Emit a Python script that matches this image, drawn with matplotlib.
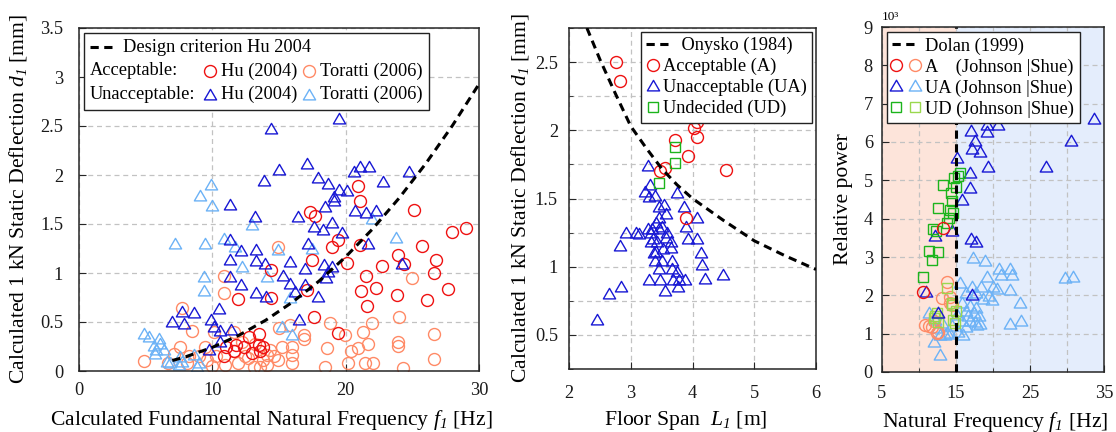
import matplotlib
matplotlib.use("Agg")
import matplotlib.pyplot as plt
from matplotlib.lines import Line2D
from matplotlib.path import Path
from matplotlib.markers import MarkerStyle
from matplotlib.offsetbox import TextArea, DrawingArea, HPacker, VPacker, AnchoredOffsetbox
from matplotlib.legend_handler import HandlerTuple, HandlerLine2D
from matplotlib.ticker import FixedLocator, FuncFormatter, MultipleLocator

# ---------------- data: panel 1 (frequency vs. 1 kN deflection) ----------------
hu_ok_f = [20.9, 21.1, 25.1, 17.3, 17.7, 28.0, 29.0, 19.0, 19.45, 21.1, 25.7,
           17.45, 20.1, 22.7, 23.9, 24.4, 26.75, 26.65, 14.4, 21.5, 27.7, 22.25,
           17.1, 21.15, 23.85, 26.1, 14.4, 11.9, 21.6, 17.6, 19.45,
           13.5, 12.75, 11.75, 12.4, 13.5, 13.8, 11.0, 11.6, 13.6, 10.9, 13.0]
hu_ok_d = [1.89, 1.73, 1.64, 1.62, 1.58, 1.42, 1.46, 1.27, 1.34, 1.29, 1.28,
           1.13, 1.10, 1.07, 1.18, 1.09, 1.13, 1.00, 1.03, 0.97, 0.84, 0.85,
           0.83, 0.82, 0.78, 0.72, 0.74, 0.73, 0.66, 0.55, 0.39,
           0.38, 0.35, 0.27, 0.25, 0.27, 0.25, 0.25, 0.20, 0.20, 0.15, 0.18]

hu_bad_f = [14.4, 19.5, 17.1, 15.0, 13.9, 17.95, 18.7, 20.6, 21.1, 21.75, 22.8,
            24.75, 19.5, 20.1, 19.15, 19.15, 18.45, 11.3, 13.2, 16.4, 20.7, 21.5,
            22.3, 17.6, 18.3, 19.0, 19.7, 21.7, 11.3, 12.15, 13.25, 17.2, 11.3,
            13.25, 13.95, 15.8, 16.95, 18.4, 19.0, 18.7, 18.5, 24.25, 11.3, 12.15,
            15.3, 15.8, 16.2, 16.95, 13.25, 14.0, 17.95, 10.5, 7.0, 7.75, 7.9,
            8.65, 9.9, 10.1, 10.6, 11.4, 10.6, 9.75, 16.5]
hu_bad_d = [2.47, 2.57, 2.11, 2.05, 1.94, 1.97, 1.91, 2.03, 2.08, 2.08, 1.93,
            2.03, 1.85, 1.84, 1.78, 1.73, 1.67, 1.69, 1.57, 1.57, 1.63, 1.61,
            1.63, 1.47, 1.44, 1.51, 1.41, 1.30, 1.34, 1.22, 1.23, 1.30, 1.13,
            1.12, 1.09, 1.11, 1.04, 1.08, 1.06, 1.01, 0.95, 1.09, 0.96, 0.88,
            0.97, 0.89, 0.81, 0.88, 0.80, 0.76, 0.76, 0.63, 0.50, 0.60, 0.48,
            0.59, 0.52, 0.45, 0.41, 0.42, 0.30, 0.21, 0.52]

tor_ok_f = [4.9, 7.75, 8.5, 7.6, 7.1, 8.1, 6.7, 9.45, 9.6, 10.3, 10.95, 10.9,
            10.9, 10.1, 11.6, 12.7, 13.1, 13.8, 14.3, 14.95, 15.2, 15.95, 15.95,
            15.95, 15.0, 15.8, 16.85, 16.85, 18.8, 18.45, 19.95, 20.2, 20.4,
            20.95, 21.3, 21.7, 21.45, 22.0, 22.05, 24.0, 23.95, 23.95, 24.3,
            25.0, 26.6, 26.6, 14.9, 11.6, 11.95, 12.45, 13.6, 14.1, 14.6, 14.1,
            18.6, 8.25, 9.0, 10.0, 12.2, 13.2]
tor_ok_d = [0.10, 0.64, 0.41, 0.25, 0.17, 0.08, 0.08, 0.25, 0.11, 0.15, 0.06,
            0.97, 0.80, 0.40, 0.40, 0.13, 0.04, 0.11, 0.21, 0.11, 0.25, 0.25,
            0.08, 0.16, 0.44, 0.47, 0.37, 0.33, 0.49, 0.04, 0.37, 0.08, 0.20,
            0.23, 0.40, 0.28, 0.08, 0.49, 0.08, 0.55, 0.30, 0.26, 0.03, 0.95,
            0.38, 0.12, 1.27, 0.20, 0.08, 0.15, 0.04, 0.06, 0.15, 0.16, 0.23,
            0.15, 0.15, 0.05, 0.30, 0.28]

tor_bad_f = [9.07, 9.9, 9.95, 7.2, 9.45, 9.4, 9.4, 10.9, 11.7, 12.2, 12.95,
             14.1, 14.95, 17.5, 21.95, 23.8, 15.8, 15.2, 15.95,
             4.9, 5.25, 6.0, 6.1, 5.6, 5.75, 5.7, 6.4, 6.6, 6.8, 7.6, 7.75,
             8.6, 9.0, 8.85, 7.5]
tor_bad_d = [1.79, 1.90, 1.68, 1.30, 1.30, 0.96, 0.82, 1.35, 1.27, 1.06, 1.49,
             0.96, 1.23, 1.25, 1.55, 1.36, 0.75, 0.45, 0.37,
             0.38, 0.35, 0.33, 0.28, 0.26, 0.21, 0.17, 0.21, 0.09, 0.08, 0.14,
             0.09, 0.16, 0.08, 0.04, 0.06]

# Hu (2004) design criterion, f1 [Hz] vs. d1 [mm]
hu_crit_f = [7, 8, 10, 12, 14, 16, 18, 20, 22, 24, 26, 28, 30]
hu_crit_d = [0.107, 0.145, 0.241, 0.365, 0.518, 0.702, 0.917, 1.165, 1.447,
             1.763, 2.115, 2.503, 2.928]

# ---------------- data: panel 2 (floor span vs. 1 kN deflection) ----------------
onysko_span = [2.29, 2.5, 2.75, 3.0, 3.25, 3.5, 3.75, 4.0, 4.5, 5.0, 5.5, 6.0]
onysko_defl = [2.75, 2.52, 2.27, 2.03, 1.87, 1.72, 1.60, 1.50, 1.34, 1.19, 1.08, 0.98]

span_a = [2.76, 2.82, 4.08, 4.02, 4.08, 3.72, 3.93, 3.47, 3.55, 4.55, 3.90]
defl_a = [2.50, 2.36, 2.06, 2.02, 1.95, 1.93, 1.81, 1.70, 1.72, 1.71, 1.36]

span_ud = [3.71, 3.72, 3.46]
defl_ud = [1.88, 1.76, 1.615]

span_ua = [3.28, 3.31, 3.23, 3.30, 3.40, 3.45, 3.54, 3.57, 3.46, 3.75, 3.86,
           4.07, 3.90, 3.41, 3.51, 2.92, 3.08, 3.13, 3.32, 3.46, 3.59, 3.32,
           3.43, 3.57, 3.65, 3.92, 4.07, 2.83, 3.41, 3.53, 3.65, 4.13, 3.39,
           3.51, 3.66, 4.15, 3.45, 3.67, 3.75, 3.30, 3.47, 3.68, 3.78, 3.88,
           4.20, 4.49, 3.55, 3.77, 2.85, 2.64, 2.46, 3.35, 3.28, 3.38, 3.36]
defl_ua = [1.74, 1.60, 1.55, 1.51, 1.52, 1.44, 1.45, 1.39, 1.36, 1.54, 1.44,
           1.36, 1.29, 1.32, 1.29, 1.25, 1.25, 1.24, 1.25, 1.28, 1.25, 1.18,
           1.18, 1.21, 1.18, 1.20, 1.20, 1.15, 1.11, 1.13, 1.14, 1.10, 1.04,
           1.04, 1.04, 1.01, 0.98, 0.98, 0.96, 0.90, 0.90, 0.90, 0.90, 0.90,
           0.91, 0.94, 0.82, 0.85, 0.85, 0.80, 0.61, 1.28, 1.28, 1.10, 1.20]

# ---------------- data: panel 3 (natural frequency vs. relative power, x10^3) ----------------
dolan_f1 = 15.0

jo_a_f = [10.5, 13.25]
jo_a_p = [2.08, 3.76]
sh_a_f = [13.8, 13.1, 14.2, 14.2, 10.85, 11.7, 12.4, 12.0, 11.4, 12.5, 14.4]
sh_a_p = [2.34, 1.93, 1.95, 1.80, 1.23, 1.17, 1.03, 1.32, 1.20, 1.05, 1.75]

jo_ua_f = [33.6, 30.5, 27.2, 22.4, 20.7, 19.15, 19.15, 17.0, 17.5, 17.2, 18.2,
           19.3, 15.1, 16.9, 16.9, 15.8, 14.4, 12.2, 17.0, 17.7, 11.0, 17.1, 12.6]
jo_ua_p = [6.60, 6.03, 5.35, 6.75, 6.44, 6.44, 6.26, 6.29, 6.03, 5.81, 5.74,
           5.35, 5.59, 5.18, 4.81, 4.48, 3.67, 3.54, 3.47, 3.39, 2.08, 2.02, 1.53]
sh_ua_f = [17.3, 18.9, 20.8, 22.3, 22.6, 21.1, 19.2, 29.7, 30.85, 15.5, 17.1,
           18.4, 20.0, 20.5, 22.3, 16.3, 17.75, 19.4, 18.6, 19.9, 23.65, 15.8,
           16.85, 17.75, 16.3, 17.4, 18.1, 22.3, 23.75, 15.8, 16.9, 17.8, 18.3,
           16.3, 13.8, 12.9, 12.0, 12.8, 16.0, 11.4, 12.2, 13.1, 14.5, 15.3,
           16.6, 14.2, 13.5, 12.5, 15.2, 17.5]
sh_ua_p = [2.98, 2.89, 2.69, 2.69, 2.54, 2.54, 2.48, 2.45, 2.49, 2.32, 2.23,
           2.23, 2.23, 2.16, 2.15, 2.06, 2.06, 1.97, 1.90, 1.88, 1.80, 1.80,
           1.71, 1.67, 1.58, 1.54, 1.45, 1.25, 1.32, 1.34, 1.32, 1.23, 1.25,
           1.17, 1.01, 0.97, 0.77, 0.45, 0.97, 1.54, 1.36, 1.27, 1.19, 1.05,
           1.45, 1.00, 0.97, 1.15, 1.50, 1.30]

jo_ud_f = [15.6, 15.3, 13.2, 15.0, 14.3, 14.5, 12.5, 14.2, 14.55, 14.0, 13.8,
           11.9, 12.3, 11.4, 12.5, 11.8, 10.6, 14.7]
jo_ud_p = [5.20, 5.11, 4.87, 4.83, 4.68, 4.46, 4.28, 4.22, 4.14, 4.02, 3.90,
           3.73, 3.67, 3.15, 3.12, 2.91, 2.47, 5.05]
sh_ud_f = [13.75, 14.4, 15.0, 12.4, 12.0, 14.65, 14.8, 12.2, 12.5, 14.5]
sh_ud_p = [2.19, 1.80, 1.58, 1.53, 1.40, 1.36, 1.29, 1.45, 1.30, 1.75]

# ---------------- styling ----------------
RED = "#ee1111"
SALMON = "#ff8a66"
BLUE = "#1818d4"
LBLUE = "#6cb2f6"
GREEN = "#1cb41c"
LGREEN = "#9ad84e"
GRID = "#c2c2c2"
SPINE = "#262626"

FS_TICK = 13.2
FS_LEG = 13.2
FS_LAB = 15.6

plt.rcParams.update({
    "font.family": ["Liberation Serif", "DejaVu Serif"],
    "mathtext.fontset": "custom",
    "mathtext.rm": "Liberation Serif",
    "mathtext.it": "Liberation Serif:italic",
    # italic face reachable for digits (subscript indices) through \mathsf
    "mathtext.sf": "Liberation Serif:italic",
    "font.size": FS_TICK,
    "axes.linewidth": 1.1,
    "axes.edgecolor": SPINE,
    "xtick.direction": "in",
    "ytick.direction": "in",
    "xtick.major.size": 5,
    "ytick.major.size": 5,
    "xtick.minor.size": 3,
    "ytick.minor.size": 3,
    "xtick.color": SPINE,
    "ytick.color": SPINE,
    "xtick.labelcolor": "#1a1a1a",
    "ytick.labelcolor": "#1a1a1a",
})

TRI = MarkerStyle(Path([(-1.0, -0.72), (1.0, -0.72), (0.0, 1.0), (-1.0, -0.72)],
                       [Path.MOVETO, Path.LINETO, Path.LINETO, Path.CLOSEPOLY]),
                  joinstyle="miter")
DASH = dict(color="black", lw=2.2, dashes=(2.7, 1.8))
MEW = 1.0


def hollow(ax, x, y, marker, color, ms, z=3):
    return ax.plot(x, y, ls="none", marker=marker, ms=ms, mfc="none",
                   mec=color, mew=MEW, zorder=z)[0]


def style_grid(ax):
    ax.set_axisbelow(True)
    ax.grid(True, which="both", color=GRID, lw=0.9, ls=(0, (4, 3)))


g = FuncFormatter(lambda v, _: f"{v:g}")

fig = plt.figure(figsize=(11.16, 4.32), dpi=100)

# ======================= panel 1 =======================
ax1 = fig.add_axes([79 / 1116, 61 / 432, 400 / 1116, 343 / 432])
hollow(ax1, tor_ok_f, tor_ok_d, "o", SALMON, 8.6, z=2)
hollow(ax1, tor_bad_f, tor_bad_d, TRI, LBLUE, 8.8, z=2.1)
hollow(ax1, hu_ok_f, hu_ok_d, "o", RED, 8.6, z=3)
hollow(ax1, hu_bad_f, hu_bad_d, TRI, BLUE, 8.8, z=3.1)
ax1.plot(hu_crit_f, hu_crit_d, zorder=4, **DASH)
ax1.set_xlim(0, 30)
ax1.set_ylim(0, 3.5)
ax1.xaxis.set_major_locator(FixedLocator([0, 10, 20, 30]))
ax1.yaxis.set_major_locator(MultipleLocator(0.5))
ax1.yaxis.set_major_formatter(g)
ax1.tick_params(axis="x", pad=8)
ax1.tick_params(axis="y", pad=11.5)
style_grid(ax1)
ax1.set_xlabel(r"Calculated Fundamental Natural Frequency $f_{\mathsf{1}}$ [Hz]", fontsize=FS_LAB)
ax1.set_ylabel(r"Calculated 1 kN Static Deflection $d_{\mathsf{1}}$ [mm]", fontsize=FS_LAB)
ax1.xaxis.set_label_coords(0.48, -0.108)
ax1.yaxis.set_label_coords(-0.125, 0.5)

# grouped key: criterion line on top, acceptance status rows below
tp = dict(fontsize=FS_LEG)


def marker_cell(marker, color, ms, w=13.0, h=10.0):
    da = DrawingArea(w, h, 0, 0)
    da.add_artist(Line2D([w / 2], [h / 2], ls="none", marker=marker, ms=ms,
                         mfc="none", mec=color, mew=MEW))
    return da


dash_cell = DrawingArea(18, 10, 0, 0)
dash_cell.add_artist(Line2D([0, 18], [5, 5], **DASH))
row0 = HPacker(children=[dash_cell, TextArea("Design criterion Hu 2004", textprops=tp)],
               sep=6, align="center")
status = VPacker(children=[TextArea("Acceptable:", textprops=tp),
                           TextArea("Unacceptable:", textprops=tp)],
                 sep=4.6, align="left")
acc_row = HPacker(children=[marker_cell("o", RED, 8.6), TextArea("Hu (2004)", textprops=tp),
                            marker_cell("o", SALMON, 8.6), TextArea("Toratti (2006)", textprops=tp)],
                  sep=1.5, align="center")
bad_row = HPacker(children=[marker_cell(TRI, BLUE, 8.8), TextArea("Hu (2004)", textprops=tp),
                            marker_cell(TRI, LBLUE, 8.8), TextArea("Toratti (2006)", textprops=tp)],
                  sep=1.5, align="center")
rows = VPacker(children=[acc_row, bad_row], sep=4.6, align="left")
grid_rows = HPacker(children=[status, rows], sep=4, align="top")
body = VPacker(children=[row0, grid_rows], sep=4.6, align="left")
key1 = AnchoredOffsetbox(loc="upper left", child=body, pad=0.35, borderpad=0.25,
                         frameon=True, prop=dict(size=FS_LEG))
key1.patch.set_boxstyle("square", pad=0)
key1.patch.set_edgecolor("#222222")
key1.patch.set_linewidth(1.0)
key1.set_zorder(10)
ax1.add_artist(key1)

# ======================= panel 2 =======================
ax2 = fig.add_axes([569 / 1116, 63 / 432, 247 / 1116, 341 / 432])
hollow(ax2, span_ua, defl_ua, TRI, BLUE, 8.8, z=3)
hollow(ax2, span_a, defl_a, "o", RED, 8.6, z=3.1)
hollow(ax2, span_ud, defl_ud, "s", GREEN, 6.8, z=3.2)
ax2.plot(onysko_span, onysko_defl, zorder=4, **DASH)
ax2.set_xlim(2, 6)
ax2.set_ylim(0.25, 2.75)
ax2.xaxis.set_major_locator(MultipleLocator(1))
ax2.yaxis.set_major_locator(MultipleLocator(0.5))
ax2.yaxis.set_minor_locator(MultipleLocator(0.25))
ax2.yaxis.set_major_formatter(g)
ax2.tick_params(axis="x", pad=11.5)
ax2.tick_params(axis="y", pad=8)
style_grid(ax2)
ax2.set_xlabel(r"Floor Span  $L_{\mathsf{1}}$ [m]", fontsize=FS_LAB)
ax2.set_ylabel(r"Calculated 1 kN Static Deflection $d_{\mathsf{1}}$ [mm]", fontsize=FS_LAB)
ax2.xaxis.set_label_coords(0.474, -0.117)
ax2.yaxis.set_label_coords(-0.154, 0.5)


class StretchedLineHandler(HandlerLine2D):
    def __init__(self, stretch=1.0, **kw):
        super().__init__(**kw)
        self.stretch = stretch

    def create_artists(self, legend, orig_handle, xdescent, ydescent, width,
                       height, fontsize, trans):
        return super().create_artists(legend, orig_handle, xdescent, ydescent,
                                      width * self.stretch, height, fontsize, trans)


h_ony = Line2D([], [], **DASH)
h_a = Line2D([], [], ls="none", marker="o", ms=8.6, mfc="none", mec=RED, mew=MEW)
h_ua = Line2D([], [], ls="none", marker=TRI, ms=8.8, mfc="none", mec=BLUE, mew=MEW)
h_ud = Line2D([], [], ls="none", marker="s", ms=6.8, mfc="none", mec=GREEN, mew=MEW)
leg2 = ax2.legend([h_ony, h_a, h_ua, h_ud],
                  ["    Onysko (1984)", "Acceptable (A)", "Unacceptable (UA)", "Undecided (UD)"],
                  loc="upper right", fontsize=FS_LEG, handlelength=0.77,
                  handletextpad=0.16, borderpad=0.3, labelspacing=0.2,
                  borderaxespad=0.2, fancybox=False, framealpha=1,
                  edgecolor="#222222",
                  handler_map={h_ony: StretchedLineHandler(stretch=1.8)})
leg2.get_frame().set_linewidth(1.0)
leg2.set_zorder(10)

# ======================= panel 3 =======================
ax3 = fig.add_axes([882 / 1116, 60 / 432, 222 / 1116, 345 / 432])
ax3.axvspan(5, dolan_f1, color="#fde4da", lw=0, zorder=0)
ax3.axvspan(dolan_f1, 35, color="#e4edfc", lw=0, zorder=0)
hollow(ax3, sh_ua_f, sh_ua_p, TRI, LBLUE, 9.0, z=2)
hollow(ax3, sh_a_f, sh_a_p, "o", SALMON, 8.6, z=2.1)
hollow(ax3, sh_ud_f, sh_ud_p, "s", LGREEN, 6.8, z=2.2)
hollow(ax3, jo_ua_f, jo_ua_p, TRI, BLUE, 9.0, z=3)
hollow(ax3, jo_ud_f, jo_ud_p, "s", GREEN, 6.8, z=3.1)
hollow(ax3, jo_a_f, jo_a_p, "o", RED, 8.6, z=3.2)
ax3.axvline(dolan_f1, zorder=4, **DASH)
ax3.set_xlim(5, 35)
ax3.set_ylim(0, 9)
ax3.xaxis.set_major_locator(FixedLocator([5, 15, 25, 35]))
ax3.xaxis.set_minor_locator(FixedLocator([10, 20, 30]))
ax3.yaxis.set_major_locator(MultipleLocator(1))
ax3.tick_params(axis="x", pad=9.5)
ax3.tick_params(axis="y", pad=6.5)
style_grid(ax3)
ax3.set_xlabel(r"Natural Frequency $f_{\mathsf{1}}$ [Hz]", fontsize=FS_LAB)
ax3.set_ylabel("Relative power", fontsize=FS_LAB)
ax3.xaxis.set_label_coords(0.509, -0.11)
ax3.yaxis.set_label_coords(-0.13, 0.5)
ax3.text(0.0, 1.012, "10³", transform=ax3.transAxes, fontsize=9.5,
         ha="left", va="bottom")


def mk(marker, color, ms):
    return Line2D([], [], ls="none", marker=marker, ms=ms, mfc="none", mec=color, mew=MEW)


h_dolan = Line2D([], [], **DASH)
leg3 = ax3.legend([h_dolan,
                   (mk("o", RED, 8.6), mk("o", SALMON, 8.6)),
                   (mk(TRI, BLUE, 9.0), mk(TRI, LBLUE, 9.0)),
                   (mk("s", GREEN, 6.8), mk("s", LGREEN, 6.8))],
                  ["Dolan (1999)", "A    (Johnson |Shue)", "UA (Johnson |Shue)",
                   "UD (Johnson |Shue)"],
                  loc="upper left", fontsize=FS_LEG, handlelength=1.42,
                  handletextpad=0.38, borderpad=0.3, labelspacing=0.2,
                  borderaxespad=0.27, fancybox=False, framealpha=1,
                  edgecolor="#222222",
                  handler_map={tuple: HandlerTuple(ndivide=None, pad=0.65)})
leg3.get_frame().set_linewidth(1.0)
leg3.set_zorder(10)

fig.savefig("out.png", dpi=100)
